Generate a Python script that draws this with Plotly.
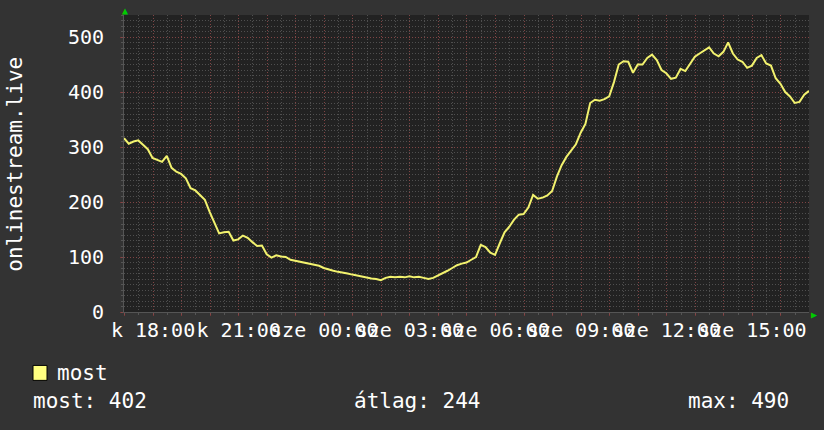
import pandas as pd
import plotly.graph_objects as go

# ---- data ----
start_time = "2024-01-09 16:59"
step_minutes = 10
values = [
    316, 306, 310, 312, 304, 296, 280, 277, 273, 284,
    262, 255, 251, 243, 225, 221, 213, 204, 182, 163,
    143, 145, 146, 130, 132, 139, 135, 127, 120, 121,
    105, 99, 103, 101, 100, 95, 93, 91, 90, 88,
    86, 84, 80, 77, 75, 73, 72, 70, 68, 66,
    64, 62, 61, 60, 58, 62, 64, 63, 64, 63,
    65, 63, 64, 62, 60, 62, 66, 70, 75, 80,
    85, 88, 90, 95, 100, 122, 118, 108, 104, 125,
    145, 155, 168, 177, 178, 190, 213, 206, 208, 212,
    220, 246, 267, 282, 294, 305, 326, 342, 380, 386,
    384, 387, 392, 418, 450, 456, 455, 435, 450, 450,
    462, 468, 458, 440, 434, 424, 426, 442, 438, 452,
    464, 470, 476, 481, 470, 465, 473, 490, 470, 459,
    455, 444, 448, 462, 467, 452, 448, 425, 415, 400,
    392, 380, 382, 395, 402,
]
series_name = "most"
y_title = "onlinestream.live"
hour_ticks = pd.date_range("2024-01-09 17:00", "2024-01-10 16:00", freq="1h")
label_map = {
    "2024-01-09 18:00": "k 18:00",
    "2024-01-09 21:00": "k 21:00",
    "2024-01-10 00:00": "sze 00:00",
    "2024-01-10 03:00": "sze 03:00",
    "2024-01-10 06:00": "sze 06:00",
    "2024-01-10 09:00": "sze 09:00",
    "2024-01-10 12:00": "sze 12:00",
    "2024-01-10 15:00": "sze 15:00",
}
y_ticks = [0, 100, 200, 300, 400, 500]
stats_text = ["most: 402", "átlag: 244", "max: 490"]

times = pd.date_range(start_time, periods=len(values), freq=f"{step_minutes}min")
x_range = [pd.Timestamp(start_time), pd.Timestamp(start_time) + pd.Timedelta(hours=24)]
tick_text = [label_map.get(t.strftime("%Y-%m-%d %H:%M"), "") for t in hour_ticks]

FONT = "DejaVu Sans Mono"
BG = "#333333"
CANVAS = "#222222"
MINOR = "rgba(110,110,110,0.6)"
MAJOR = "rgba(170,60,60,0.55)"
LINE = "#f2f26e"

fig = go.Figure()
fig.add_trace(go.Scatter(
    x=times, y=values, mode="lines", line=dict(color=LINE, width=2),
    name=series_name, showlegend=False, hoverinfo="skip",
))

L, T, R, B = 124, 15, 15, 117.5
W, H = 824, 430
pw, ph = W - L - R, H - T - B

def px(x):
    return (x - L) / pw

def py(y):
    return (H - B - y) / ph

fig.update_layout(
    width=W, height=H,
    margin=dict(l=L, r=R, t=T, b=B, pad=0),
    paper_bgcolor=BG, plot_bgcolor=CANVAS,
    font=dict(family=FONT, color="#ffffff", size=20),
    showlegend=False,
    xaxis=dict(
        type="date", range=x_range,
        tickmode="array", tickvals=list(hour_ticks), ticktext=tick_text,
        tickangle=0, tickfont=dict(family=FONT, size=20, color="#ffffff"),
        showgrid=True, gridcolor=MAJOR, griddash="1px,2px", gridwidth=1,
        ticks="outside", ticklen=3, tickcolor=MAJOR, ticklabelstandoff=-3,
        showline=True, linecolor="#555555", linewidth=1,
        zeroline=False,
        minor=dict(tick0="2024-01-09 16:30", dtick=1800000, showgrid=True,
                   gridcolor=MINOR, griddash="1px,2px", gridwidth=1,
                   ticks="outside", ticklen=2, tickcolor="#555555"),
    ),
    yaxis=dict(
        range=[0, 540], tickmode="array", tickvals=y_ticks,
        tickfont=dict(family=FONT, size=20, color="#ffffff"),
        showgrid=True, gridcolor=MAJOR, griddash="1px,2px", gridwidth=1,
        ticks="outside", ticklen=3, tickcolor=MAJOR, ticklabelstandoff=12,
        showline=True, linecolor="#555555", linewidth=1,
        zeroline=False,
        minor=dict(tick0=0, dtick=10, showgrid=True, gridcolor=MINOR,
                   griddash="1px,2px", gridwidth=1,
                   ticks="outside", ticklen=2, tickcolor="#555555"),
    ),
)

ann = []
ann.append(dict(xref="paper", yref="paper", x=px(15), y=py(164), text=y_title,
                textangle=-90, showarrow=False, xanchor="center", yanchor="middle",
                font=dict(family=FONT, size=21, color="#ffffff")))
ann.append(dict(xref="paper", yref="paper", x=px(55), y=py(374), text=series_name,
                showarrow=False, xanchor="left", yanchor="middle",
                font=dict(family=FONT, size=21, color="#ffffff")))
for txt, xpix in zip(stats_text, [31, 352, 686]):
    ann.append(dict(xref="paper", yref="paper", x=px(xpix), y=py(402), text=txt,
                    showarrow=False, xanchor="left", yanchor="middle",
                    font=dict(family=FONT, size=21, color="#ffffff")))
ann.append(dict(xref="paper", yref="paper", x=px(124.5), y=py(10), text="▲",
                showarrow=False, xanchor="center", yanchor="middle",
                font=dict(family=FONT, size=10, color="#00cc00")))
ann.append(dict(xref="paper", yref="paper", x=px(814), y=py(315), text="▶",
                showarrow=False, xanchor="center", yanchor="middle",
                font=dict(family=FONT, size=10, color="#00cc00")))
fig.update_layout(annotations=ann)

fig.add_shape(type="rect", xref="paper", yref="paper",
              x0=px(33), x1=px(47), y0=py(381), y1=py(366),
              fillcolor="#ffff80", line=dict(color="#000000", width=1))

fig.write_html(
    "out.html",
    config={"displayModeBar": False},
    post_script="document.body.style.margin='0';document.body.style.overflow='hidden';",
)
